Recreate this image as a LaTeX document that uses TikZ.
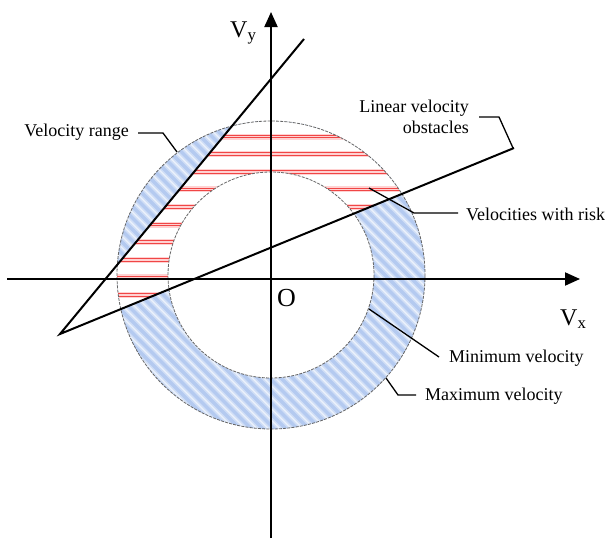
\documentclass[tikz,border=0pt]{standalone}
\usepackage{fontspec}
\setmainfont{Liberation Serif}
\usetikzlibrary{arrows.meta,calc}
\definecolor{bluebg}{RGB}{236,242,252}
\definecolor{bluehalo}{RGB}{208,222,246}
\definecolor{bluestr}{RGB}{180,202,240}
\definecolor{pinkband}{RGB}{255,210,210}
\definecolor{redline}{RGB}{240,70,70}
\begin{document}
\begin{tikzpicture}[x=1pt,y=-1pt,
  axis/.style={line width=2pt,-{Triangle[length=15pt,width=13pt]}},
  vo/.style={line width=2pt,line join=miter},
  leader/.style={line width=1.3pt},
  ringline/.style={gray!80!black,line width=0.8pt,dash pattern=on 3pt off 1.2pt},
  bluehalostripe/.style={bluehalo,line width=6.5pt},
  bluestripe/.style={bluestr,line width=3.2pt},
  redband/.style={pinkband,line width=6pt},
  redcore/.style={redline,line width=0.9pt},
  lbl/.style={inner sep=0pt,font=\fontsize{18}{21}\selectfont},
  axlbl/.style={inner sep=0pt,font=\fontsize{24}{28}\selectfont}]
\useasboundingbox (0,0) rectangle (612,538);
\coordinate (C) at (271,275);
\coordinate (A) at (60,334);
\coordinate (L1) at (304,39);
\coordinate (L2) at (514,148);
% blue ring
\begin{scope}
  \clip (C) circle[radius=154];
  \fill[bluebg] (C) circle[radius=154];
  \foreach \i in {0,...,80} {
    \draw[bluehalostripe] ({-250+11.5*\i},100) -- ++(350,350);
    \draw[bluestripe] ({-250+11.5*\i},100) -- ++(350,350);
  }
  % cone: red region
  \begin{scope}
    \clip (A) -- ($(A)!3!(L1)$) -- ($(A)!3!(L2)$) -- cycle;
    \fill[white] (C) circle[radius=154];
    \foreach \i in {0,...,9} {
      \draw[redband] (100,{136.5+17.6*\i}) -- (450,{136.5+17.6*\i});
      \draw[redcore] (100,{135.2+17.6*\i}) -- (450,{135.2+17.6*\i});
      \draw[redcore] (100,{137.8+17.6*\i}) -- (450,{137.8+17.6*\i});
    }
  \end{scope}
  \fill[white] (C) circle[radius=103];
\end{scope}
\draw[ringline] (C) circle[radius=154];
\draw[ringline] (C) circle[radius=103];
% axes
\coordinate (Ybot) at (271,538);
\coordinate (Ytop) at (271,12);
\coordinate (Xl) at (7,279);
\coordinate (Xr) at (580,279);
\draw[axis] (Ybot) -- (Ytop);
\draw[axis] (Xl) -- (Xr);
% velocity obstacle lines
\draw[vo] (L1) -- (A) -- (L2);
% labels
\node[axlbl,anchor=base west] (vy) at (230,37) {V\textsubscript{y}};
\node[axlbl,anchor=base west] (vx) at (560,325) {V\textsubscript{x}};
\node[inner sep=0pt,font=\fontsize{26}{30}\selectfont,anchor=base west] (o) at (277,306) {O};
\node[lbl,anchor=base east] (vr) at (129,136) {Velocity range};
\node[lbl,anchor=north east,align=right] (lvo) at (469,99.5) {Linear velocity\\obstacles};
\node[lbl,anchor=base west] (vwr) at (466,220) {Velocities with risk};
\node[lbl,anchor=base west] (minv) at (449,362) {Minimum velocity};
\node[lbl,anchor=base west] (maxv) at (425,400) {Maximum velocity};
% leaders
\coordinate (vrA) at (177,152);
\coordinate (lvoA) at (513,148);
\coordinate (vwrA) at (369,188);
\coordinate (minA) at (369,309);
\coordinate (maxA) at (386,378);
\draw[leader] (138,133) -- (163,133) -- (vrA);
\draw[leader] (479,117) -- (499,117) -- (lvoA);
\draw[leader] (vwrA) -- (414,213) -- (458,213);
\draw[leader] (minA) -- (439,357);
\draw[leader] (maxA) -- (398,395) -- (416,395);
\end{tikzpicture}
\end{document}
